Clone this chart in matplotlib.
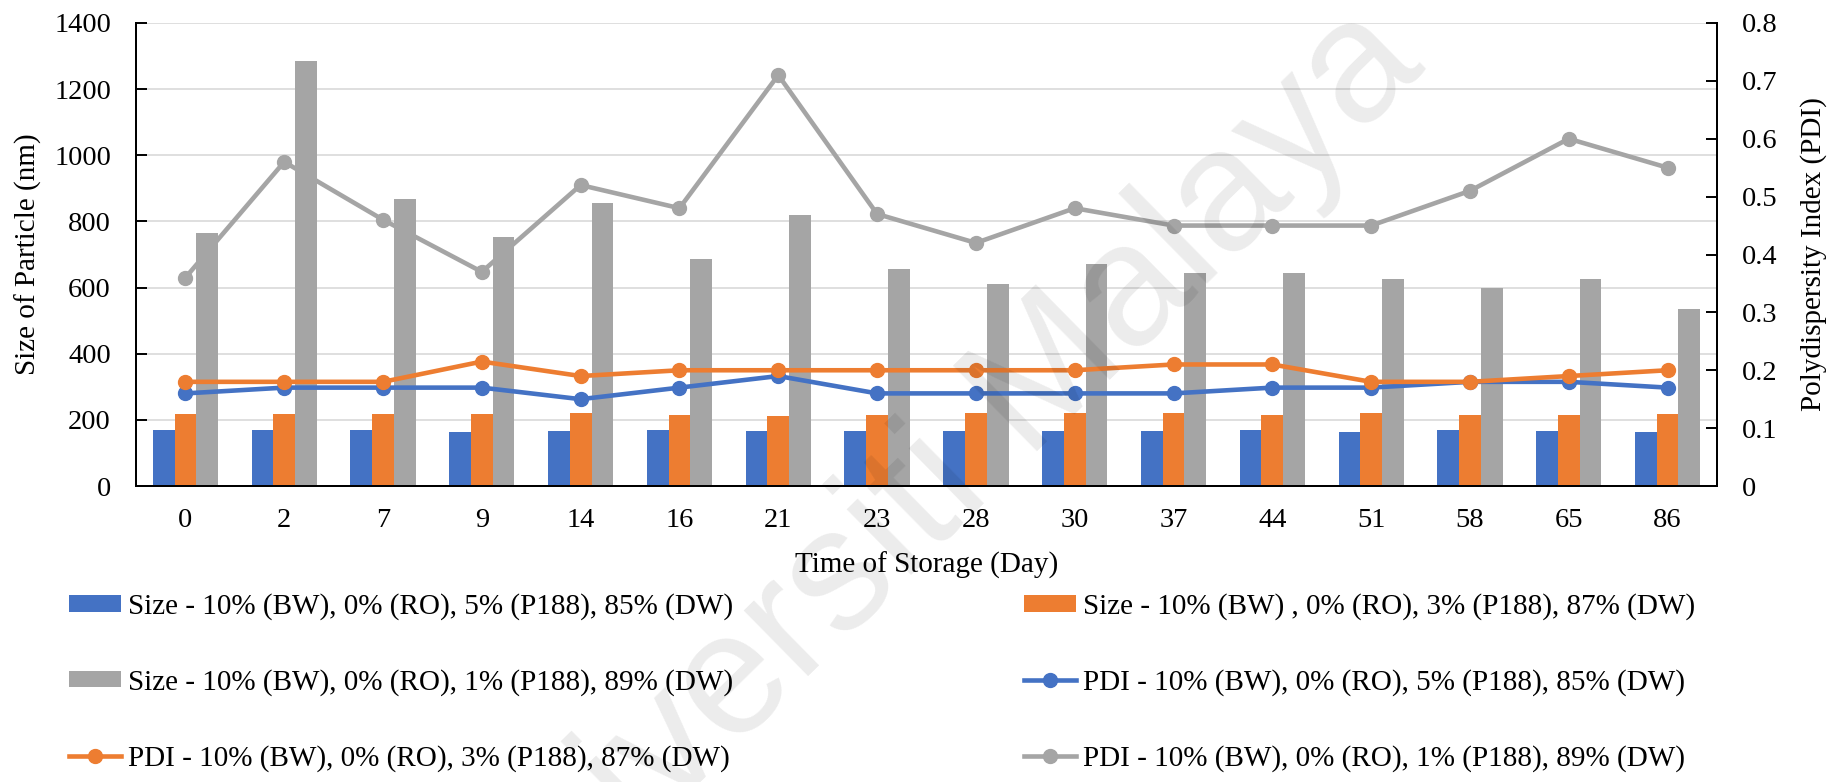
import matplotlib
matplotlib.use("Agg")
import matplotlib.pyplot as plt
import numpy as np

# Storage days (category axis)
days = ["0", "2", "7", "9", "14", "16", "21", "23", "28", "30", "37", "44", "51", "58", "65", "86"]

# Particle size (nm) for each formulation
size_p5 = [170, 170, 168, 164, 166, 168, 166, 166, 166, 166, 166, 168, 164, 168, 166, 162]
size_p3 = [217, 217, 218, 217, 220, 214, 212, 216, 220, 220, 222, 215, 220, 215, 214, 218]
size_p1 = [764, 1284, 867, 752, 856, 685, 820, 656, 610, 671, 643, 645, 627, 600, 625, 534]

# Polydispersity index for each formulation
pdi_p5 = [0.16, 0.17, 0.17, 0.17, 0.15, 0.17, 0.19, 0.16, 0.16, 0.16, 0.16, 0.17, 0.17, 0.18, 0.18, 0.17]
pdi_p3 = [0.18, 0.18, 0.18, 0.215, 0.19, 0.20, 0.20, 0.20, 0.20, 0.20, 0.21, 0.21, 0.18, 0.18, 0.19, 0.20]
pdi_p1 = [0.36, 0.56, 0.46, 0.37, 0.52, 0.48, 0.71, 0.47, 0.42, 0.48, 0.45, 0.45, 0.45, 0.51, 0.60, 0.55]

size_ticks = [0, 200, 400, 600, 800, 1000, 1200, 1400]
pdi_ticks = [0, 0.1, 0.2, 0.3, 0.4, 0.5, 0.6, 0.7, 0.8]

labels = [
    "Size - 10% (BW), 0% (RO), 5% (P188), 85% (DW)",
    "Size - 10% (BW) , 0% (RO), 3% (P188), 87% (DW)",
    "Size - 10% (BW), 0% (RO), 1% (P188), 89% (DW)",
    "PDI - 10% (BW), 0% (RO), 5% (P188), 85% (DW)",
    "PDI - 10% (BW), 0% (RO), 3% (P188), 87% (DW)",
    "PDI - 10% (BW), 0% (RO), 1% (P188), 89% (DW)",
]

BLUE = "#4472C4"
ORANGE = "#ED7D31"
GRAY = "#A5A5A5"

plt.rcParams["font.family"] = ["Liberation Serif", "DejaVu Serif"]
FS = 20.5

fig = plt.figure(figsize=(18.39, 7.82), dpi=100)
ax = fig.add_axes([0.07395, 0.3785, 0.8597, 0.5921])
ax2 = ax.twinx()

x = np.arange(len(days))
w = 0.22
b1 = ax.bar(x - w, size_p5, w, color=BLUE, label=labels[0], zorder=2)
b2 = ax.bar(x, size_p3, w, color=ORANGE, label=labels[1], zorder=2)
b3 = ax.bar(x + w, size_p1, w, color=GRAY, label=labels[2], zorder=2)

lw, ms = 3.3, 10
l1, = ax2.plot(x, pdi_p5, color=BLUE, lw=lw, marker="o", ms=ms, label=labels[3])
l2, = ax2.plot(x, pdi_p3, color=ORANGE, lw=lw, marker="o", ms=ms, label=labels[4])
l3, = ax2.plot(x, pdi_p1, color=GRAY, lw=lw, marker="o", ms=ms, label=labels[5])

ax.set_xlim(-0.5, len(days) - 0.5)
ax.set_ylim(0, 1400)
ax2.set_ylim(0, 0.8)
ax.set_xticks(x)
ax.set_xticklabels(days)
ax.set_yticks(size_ticks)
ax.set_yticklabels([str(v) for v in size_ticks])
ax2.set_yticks(pdi_ticks)
ax2.set_yticklabels([f"{v:g}" for v in pdi_ticks])

ax.set_axisbelow(True)
ax.yaxis.grid(True, color="#d9d9d9", lw=1.2)
ax.xaxis.grid(False)

for a in (ax, ax2):
    a.spines["top"].set_visible(False)
    for s in ("left", "right", "bottom"):
        a.spines[s].set_color("black")
        a.spines[s].set_linewidth(1.4)

ax.tick_params(axis="y", direction="in", length=8, width=1.4, pad=18, labelsize=FS)
ax2.tick_params(axis="y", direction="in", length=8, width=1.4, pad=18, labelsize=FS)
ax.tick_params(axis="x", length=0, pad=16, labelsize=FS)

ax.set_xlabel("Time of Storage (Day)", fontsize=21, labelpad=13)
ax.set_ylabel("Size of Particle (nm)", fontsize=21, labelpad=8.5)
ax2.set_ylabel("Polydispersity Index (PDI)", fontsize=21, labelpad=16, rotation=90)

leg_kw = dict(loc="center left", frameon=False, fontsize=21, borderpad=0,
              borderaxespad=0, handlelength=1.8, handleheight=0.48,
              handletextpad=0.22, labelspacing=1.67)
fig.legend([b1, b3, l2], [labels[0], labels[2], labels[4]],
           bbox_to_anchor=(0.0375, 0.1273), **leg_kw)
fig.legend([b2, l1, l3], [labels[1], labels[3], labels[5]],
           bbox_to_anchor=(0.5568, 0.1273), **leg_kw)

# faint diagonal watermark
fig.text(0.502, 0.361, "Universiti Malaya", rotation=44.5, fontsize=125,
         color="black", alpha=0.08, ha="center", va="center",
         rotation_mode="anchor", family="Liberation Sans", zorder=10)

fig.savefig("out.png", dpi=100)
